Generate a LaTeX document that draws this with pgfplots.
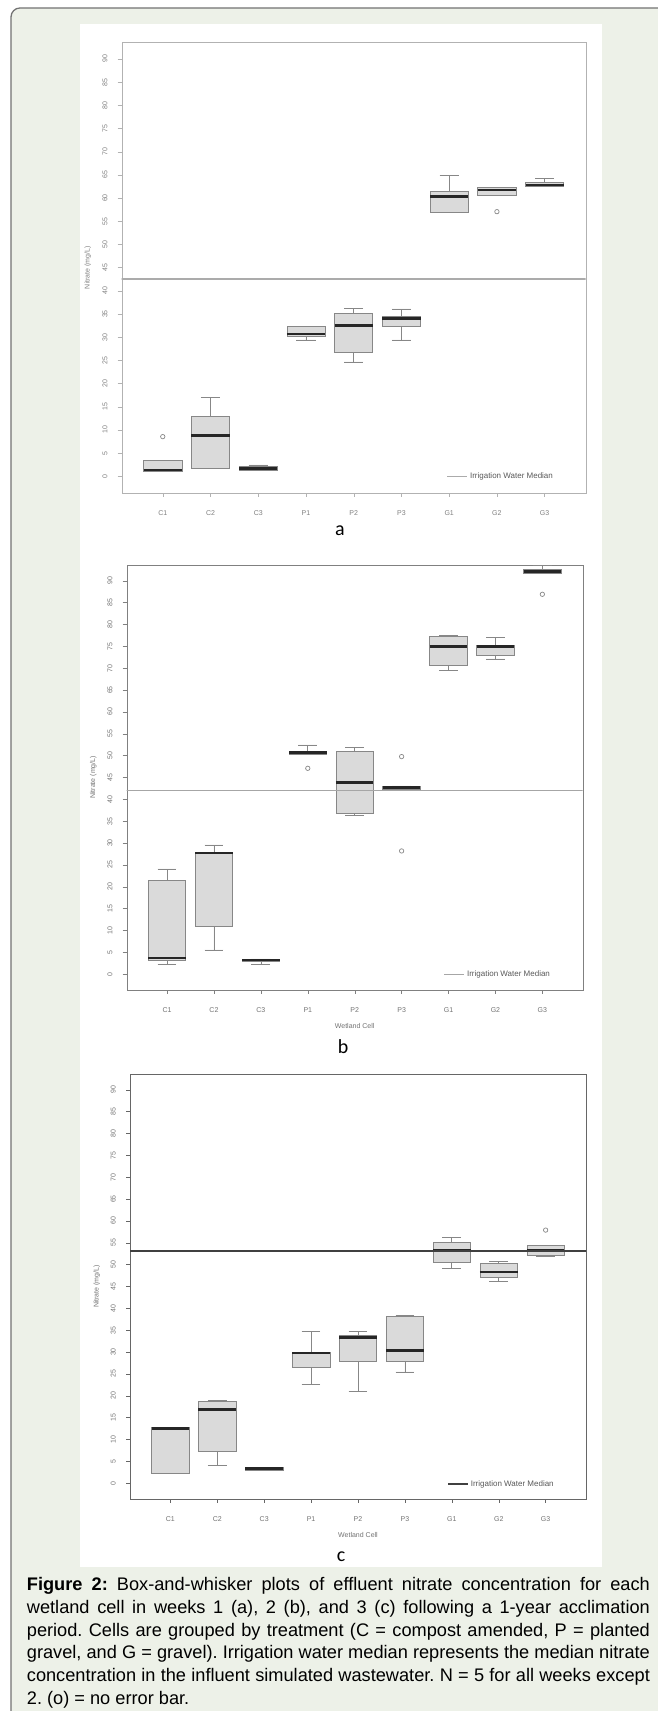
\documentclass[border=0pt]{standalone}
\usepackage{fontspec}
\setmainfont{Liberation Sans}
\newfontfamily\carlito{Carlito}
\usepackage{pgfplots}
\pgfplotsset{compat=1.18}
\usepgfplotslibrary{statistics}
\definecolor{bggreen}{RGB}{237,241,232}
\definecolor{boxfill}{RGB}{218,218,218}
\definecolor{boxline}{RGB}{135,135,135}
\newcommand\tf{\fontsize{7}{8}\selectfont}
\pgfplotsset{
  legend image code/.code={\draw[#1] (0pt,0pt) -- (20pt,0pt);},
  rbox/.style={
    scale only axis, anchor=south west,
    xmin=0.14, xmax=9.86, ymin=-3.6, ymax=93.6,
    xtick={1,...,9}, xticklabels={C1,C2,C3,P1,P2,P3,G1,G2,G3},
    ytick={0,5,...,90},
    tick pos=left, tick align=outside, major tick length=4pt,
    tick label style={font=\tf},
    /pgf/number format/assume math mode=true,
    yticklabel style={rotate=90, anchor=south, inner sep=0pt},
    xticklabel style={anchor=north, inner sep=0pt},
    yticklabel shift=10pt, xticklabel shift=13pt,
    every axis y label/.style={at={(axis description cs:-0.073,0.5)}, rotate=90, anchor=center, font=\tf},
    every axis x label/.style={at={(axis description cs:0.5,-0.085)}, anchor=center, font=\tf},
    legend style={draw=none, fill=none, font=\fontsize{8}{9}\selectfont, inner sep=0pt, anchor=east},
    legend cell align=left,
    ylabel={Nitrate (mg/L)},
  },
  bp/.style={forget plot, draw=boxline, fill=boxfill, solid, line width=0.7pt,
    mark=o, mark size=2.2pt, mark options={draw=boxline, fill=none, solid},
    boxplot/draw direction=y,
    boxplot/box extend=0.8, boxplot/whisker extend=0.4,
    boxplot/every median/.style={draw=black!85, line width=2.4pt},
    boxplot/every whisker/.style={draw=boxline}},
}
\begin{document}
\begin{tikzpicture}
\useasboundingbox (0pt,0pt) rectangle (658pt,1711pt);
\fill[white] (0pt,0pt) rectangle (658pt,1711pt);
\draw[draw=black!55, line width=1.3pt, fill=bggreen, rounded corners=9pt] (11pt,1703pt) rectangle (700pt,-40pt);
\fill[white] (80pt,144pt) rectangle (602pt,1687pt);

% ---------------- panel a ----------------
\begin{axis}[rbox, at={(121.7pt,1218pt)}, width=464pt, height=450.7pt,
  axis line style={draw=black!30}, every tick/.style={draw=black!30},
  tick label style={text=black!50}, ylabel style={text=black!50},
  legend style={at={(0.934,0.036)}, text=black!65}]
\addplot[bp, boxplot prepared={draw position=1, lower whisker=1.0, lower quartile=1.0, median=1.36, upper quartile=3.37, upper whisker=3.37}] coordinates {(1,8.55)};
\addplot[bp, boxplot prepared={draw position=2, lower whisker=1.72, lower quartile=1.72, median=8.76, upper quartile=12.86, upper whisker=16.96}] coordinates {};
\addplot[bp, boxplot prepared={draw position=3, lower whisker=1.3, lower quartile=1.36, median=1.72, upper quartile=2.22, upper whisker=2.44}] coordinates {};
\addplot[bp, boxplot prepared={draw position=4, lower whisker=29.4, lower quartile=30.11, median=30.69, upper quartile=32.4, upper whisker=32.4}] coordinates {};
\addplot[bp, boxplot prepared={draw position=5, lower whisker=24.65, lower quartile=26.8, median=32.56, upper quartile=35.15, upper whisker=36.15}] coordinates {};
\addplot[bp, boxplot prepared={draw position=6, lower whisker=29.4, lower quartile=32.27, median=34.07, upper quartile=34.57, upper whisker=36.08}] coordinates {};
\addplot[bp, boxplot prepared={draw position=7, lower whisker=56.85, lower quartile=56.85, median=60.3, upper quartile=61.38, upper whisker=64.9}] coordinates {};
\addplot[bp, boxplot prepared={draw position=8, lower whisker=60.52, lower quartile=60.52, median=61.74, upper quartile=62.24, upper whisker=62.24}] coordinates {(8,57.07)};
\addplot[bp, boxplot prepared={draw position=9, lower whisker=62.6, lower quartile=62.6, median=62.82, upper quartile=63.47, upper whisker=64.2}] coordinates {};
\addplot[draw=black!33, line width=1.3pt] coordinates {(0,42.55) (10,42.55)};
\addlegendentry{Irrigation Water Median}
\end{axis}

% ---------------- panel b ----------------
\begin{axis}[rbox, at={(126.7pt,721pt)}, width=456pt, height=425pt,
  axis line style={draw=black!50}, every tick/.style={draw=black!50},
  tick label style={text=black!55}, ylabel style={text=black!55}, xlabel style={text=black!55},
  xlabel={Wetland Cell},
  legend style={at={(0.933,0.037)}, text=black!65}]
\addplot[bp, boxplot prepared={draw position=1, lower whisker=2.29, lower quartile=3.27, median=3.66, upper quartile=21.42, upper whisker=24.08}] coordinates {};
\addplot[bp, boxplot prepared={draw position=2, lower whisker=5.56, lower quartile=10.9, median=27.67, upper quartile=27.9, upper whisker=29.57}] coordinates {};
\addplot[bp, boxplot prepared={draw position=3, lower whisker=2.29, lower quartile=2.89, median=3.2, upper quartile=3.5, upper whisker=3.5}] coordinates {};
\addplot[bp, boxplot prepared={draw position=4, lower whisker=50.3, lower quartile=50.3, median=50.69, upper quartile=50.92, upper whisker=52.45}] coordinates {(4,47.1)};
\addplot[bp, boxplot prepared={draw position=5, lower whisker=36.28, lower quartile=36.82, median=43.9, upper quartile=51.07, upper whisker=51.84}] coordinates {};
\addplot[bp, boxplot prepared={draw position=6, lower whisker=42.31, lower quartile=42.31, median=42.69, upper quartile=43.07, upper whisker=43.07}] coordinates {(6,49.78) (6,28.2)};
\addplot[bp, boxplot prepared={draw position=7, lower whisker=69.45, lower quartile=70.75, median=74.94, upper quartile=77.38, upper whisker=77.54}] coordinates {};
\addplot[bp, boxplot prepared={draw position=8, lower whisker=72.12, lower quartile=72.88, median=74.94, upper quartile=75.32, upper whisker=77.08}] coordinates {};
\addplot[bp, boxplot prepared={draw position=9, lower whisker=91.72, lower quartile=91.72, median=92.09, upper quartile=92.7, upper whisker=93.47}] coordinates {(9,86.9)};
\addplot[draw=black!35, line width=1.3pt] coordinates {(0,42.0) (10,42.0)};
\addlegendentry{Irrigation Water Median}
\end{axis}

% ---------------- panel c ----------------
\begin{axis}[rbox, at={(130pt,212pt)}, width=456pt, height=425pt,
  axis line style={draw=black!60}, every tick/.style={draw=black!60},
  tick label style={text=black!55}, ylabel style={text=black!55}, xlabel style={text=black!55},
  xlabel={Wetland Cell},
  legend style={at={(0.934,0.035)}, text=black!65}]
\addplot[bp, boxplot prepared={draw position=1, lower whisker=2.28, lower quartile=2.28, median=12.55, upper quartile=12.7, upper whisker=12.85}] coordinates {};
\addplot[bp, boxplot prepared={draw position=2, lower whisker=4.1, lower quartile=7.37, median=16.87, upper quartile=18.62, upper whisker=19.0}] coordinates {};
\addplot[bp, boxplot prepared={draw position=3, lower whisker=3.04, lower quartile=3.04, median=3.42, upper quartile=3.7, upper whisker=3.7}] coordinates {};
\addplot[bp, boxplot prepared={draw position=4, lower whisker=22.57, lower quartile=26.6, median=29.8, upper quartile=30.02, upper whisker=34.73}] coordinates {};
\addplot[bp, boxplot prepared={draw position=5, lower whisker=21.05, lower quartile=27.9, median=33.36, upper quartile=33.74, upper whisker=34.73}] coordinates {};
\addplot[bp, boxplot prepared={draw position=6, lower whisker=25.46, lower quartile=27.9, median=30.32, upper quartile=38.15, upper whisker=38.3}] coordinates {};
\addplot[bp, boxplot prepared={draw position=7, lower whisker=49.17, lower quartile=50.55, median=53.35, upper quartile=55.1, upper whisker=56.24}] coordinates {};
\addplot[bp, boxplot prepared={draw position=8, lower whisker=46.13, lower quartile=47.12, median=48.26, upper quartile=50.23, upper whisker=50.69}] coordinates {};
\addplot[bp, boxplot prepared={draw position=9, lower whisker=52.0, lower quartile=52.2, median=53.2, upper quartile=54.34, upper whisker=54.34}] coordinates {(9,57.9)};
\addplot[draw=black!75, line width=1.3pt] coordinates {(0,53.12) (10,53.12)};
\addlegendentry{Irrigation Water Median}
\end{axis}

% panel letters
\node[font=\carlito\fontsize{20}{22}\selectfont, anchor=base] at (340pt,1175pt) {a};
\node[font=\carlito\fontsize{20}{22}\selectfont, anchor=base] at (343pt,657pt) {b};
\node[font=\carlito\fontsize{20}{22}\selectfont, anchor=base] at (341pt,149pt) {c};

% caption
\node[anchor=north west, inner sep=0pt] at (26.7pt,133.5pt) {%
\parbox{623pt}{\fontsize{18.2}{22.7}\selectfont\frenchspacing\tolerance=10000\hyphenpenalty=10000
\textbf{Figure 2:} Box-and-whisker plots of effluent nitrate concentration for each\linebreak
wetland cell in weeks 1 (a), 2 (b), and 3 (c) following a 1-year acclimation\linebreak
period. Cells are grouped by treatment (C = compost amended, P = planted\linebreak
gravel, and G = gravel). Irrigation water median represents the median nitrate\linebreak
concentration in the influent simulated wastewater. N = 5 for all weeks except\linebreak
2. (o) = no error bar.}};
\end{tikzpicture}
\end{document}
